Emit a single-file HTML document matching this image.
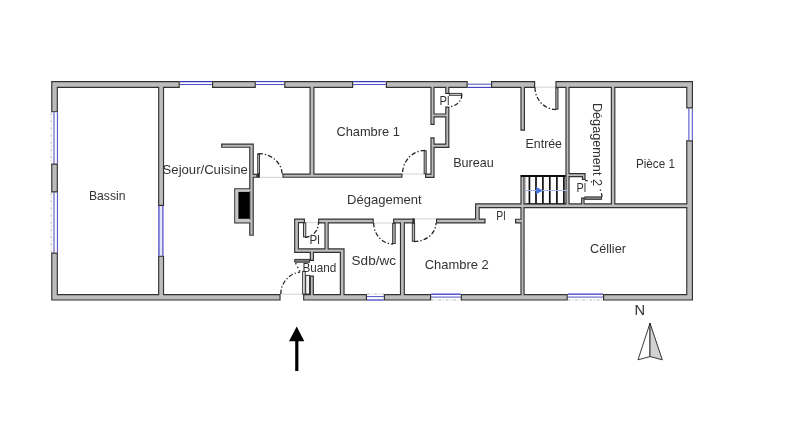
<!DOCTYPE html>
<html><head><meta charset="utf-8"><title>Plan</title>
<style>
html,body{margin:0;padding:0;background:#fff;}
body{width:800px;height:448px;overflow:hidden;font-family:"Liberation Sans",sans-serif;}
svg{display:block;}
text{font-family:"Liberation Sans",sans-serif;font-size:13.4px;fill:#333;}
</style></head><body>
<svg width="800" height="448" viewBox="0 0 800 448">
<defs>
<filter id="bl" x="0" y="0" width="800" height="448" filterUnits="userSpaceOnUse"><feGaussianBlur stdDeviation="0.35"/></filter>

</defs>
<rect width="800" height="448" fill="#fff"/>
<g filter="url(#bl)">
<line x1="259" y1="177.4" x2="282.4" y2="177.4" stroke="#c8c8c8" stroke-width="0.8"/>
<line x1="402.5" y1="174" x2="424" y2="174" stroke="#c8c8c8" stroke-width="0.8"/>
<line x1="535" y1="87.2" x2="555.6" y2="87.2" stroke="#c8c8c8" stroke-width="0.8"/>
<line x1="373.75" y1="223" x2="393" y2="223" stroke="#c8c8c8" stroke-width="0.8"/>
<line x1="414.75" y1="218.9" x2="436" y2="218.9" stroke="#c8c8c8" stroke-width="0.8"/>
<line x1="281" y1="294.2" x2="303" y2="294.2" stroke="#c8c8c8" stroke-width="0.8"/>
<line x1="306" y1="222.6" x2="318" y2="222.6" stroke="#c8c8c8" stroke-width="0.8"/>
<line x1="179.8" y1="81.6" x2="212" y2="81.6" stroke="#3a3ac0" stroke-width="1.1"/>
<line x1="179.8" y1="84.5" x2="212" y2="84.5" stroke="#3a3ac0" stroke-width="0.9"/>
<line x1="255.8" y1="81.6" x2="284.2" y2="81.6" stroke="#3a3ac0" stroke-width="1.1"/>
<line x1="255.8" y1="84.5" x2="284.2" y2="84.5" stroke="#3a3ac0" stroke-width="0.9"/>
<line x1="353.2" y1="81.6" x2="385.8" y2="81.6" stroke="#3a3ac0" stroke-width="1.1"/>
<line x1="353.2" y1="84.5" x2="385.8" y2="84.5" stroke="#3a3ac0" stroke-width="0.9"/>
<line x1="467.7" y1="84.2" x2="491" y2="84.2" stroke="#3a3ac0" stroke-width="0.9"/>
<line x1="467.7" y1="87.4" x2="491" y2="87.4" stroke="#3a3ac0" stroke-width="1.1"/>
<line x1="367" y1="296.6" x2="383.8" y2="296.6" stroke="#3a3ac0" stroke-width="0.9"/>
<line x1="367" y1="300" x2="383.8" y2="300" stroke="#3a3ac0" stroke-width="1.2"/>
<line x1="367" y1="294" x2="383.8" y2="294" stroke="#b4b4b4" stroke-width="0.9" stroke-dasharray="3 1.6 1 1.6"/>
<line x1="431.2" y1="294.2" x2="460.75" y2="294.2" stroke="#3a3ac0" stroke-width="1.3"/>
<line x1="431.2" y1="297.1" x2="460.75" y2="297.1" stroke="#3a3ac0" stroke-width="0.9"/>
<line x1="431.2" y1="300" x2="460.75" y2="300" stroke="#b4b4b4" stroke-width="0.9" stroke-dasharray="3 1.6 1 1.6"/>
<line x1="567.75" y1="294.1" x2="603" y2="294.1" stroke="#3a3ac0" stroke-width="1.3"/>
<line x1="567.75" y1="297.1" x2="603" y2="297.1" stroke="#3a3ac0" stroke-width="0.9"/>
<line x1="567.75" y1="300" x2="603" y2="300" stroke="#b4b4b4" stroke-width="0.9" stroke-dasharray="3 1.6 1 1.6"/>
<line x1="54.0" y1="112.5" x2="54.0" y2="163.6" stroke="#3a3ac0" stroke-width="0.95"/>
<line x1="57.4" y1="112.5" x2="57.4" y2="163.6" stroke="#3a3ac0" stroke-width="0.95"/>
<line x1="51.2" y1="112.5" x2="51.2" y2="163.6" stroke="#b4b4b4" stroke-width="0.9" stroke-dasharray="3 1.6 1 1.6"/>
<line x1="54.0" y1="192.5" x2="54.0" y2="252.5" stroke="#3a3ac0" stroke-width="0.95"/>
<line x1="57.4" y1="192.5" x2="57.4" y2="252.5" stroke="#3a3ac0" stroke-width="0.95"/>
<line x1="51.2" y1="192.5" x2="51.2" y2="252.5" stroke="#b4b4b4" stroke-width="0.9" stroke-dasharray="3 1.6 1 1.6"/>
<rect x="158.9" y="206" width="4" height="50" fill="#e6e6f6"/>
<line x1="158.9" y1="206" x2="158.9" y2="255.8" stroke="#3a3ac0" stroke-width="1.2"/>
<line x1="162.9" y1="206" x2="162.9" y2="255.8" stroke="#3a3ac0" stroke-width="1.1"/>
<line x1="688.9" y1="108.5" x2="688.9" y2="140.3" stroke="#3a3ac0" stroke-width="0.95"/>
<line x1="692.3" y1="108.5" x2="692.3" y2="140.3" stroke="#3a3ac0" stroke-width="0.95"/>
<path fill="#303030" d="M51.20 81.00H179.80V88.00H51.20ZM212.00 81.00H255.80V88.00H212.00ZM284.20 81.00H353.20V88.00H284.20ZM385.80 81.00H467.70V88.00H385.80ZM491.00 81.00H535.20V88.00H491.00ZM555.40 81.00H693.00V88.00H555.40ZM51.20 81.00H57.90V112.30H51.20ZM51.20 163.50H57.90V192.50H51.20ZM51.20 252.50H57.90V300.60H51.20ZM51.20 294.00H280.60V300.60H51.20ZM303.10 294.00H367.00V300.60H303.10ZM383.80 294.00H431.20V300.60H383.80ZM460.75 294.00H567.75V300.60H460.75ZM603.00 294.00H693.00V300.60H603.00ZM686.20 81.00H693.00V108.50H686.20ZM686.20 140.30H693.00V300.60H686.20ZM158.10 87.50H164.10V206.00H158.10ZM158.10 255.70H164.10V294.50H158.10ZM309.50 87.50H314.50V174.00H309.50ZM282.40 173.50H402.50V177.80H282.40ZM221.10 143.60H253.80V147.80H221.10ZM249.20 143.60H253.80V235.80H249.20ZM253.00 173.80H257.50V177.80H253.00ZM234.20 188.30H250.00V192.20H234.20ZM234.20 188.30H238.60V223.40H234.20ZM234.20 218.60H250.00V223.40H234.20ZM430.40 87.50H434.60V125.00H430.40ZM430.40 137.25H434.60V177.90H430.40ZM445.20 87.50H449.40V94.00H445.20ZM445.20 106.50H449.40V147.90H445.20ZM434.00 113.40H446.00V117.50H434.00ZM430.40 143.50H449.40V147.90H430.40ZM425.00 173.50H434.60V177.90H425.00ZM520.40 87.50H525.00V130.70H520.40ZM565.40 87.50H569.60V204.00H565.40ZM610.80 87.50H615.40V204.00H610.80ZM475.00 203.30H687.00V208.20H475.00ZM475.00 203.30H479.75V223.50H475.00ZM436.00 218.50H485.60V223.50H436.00ZM515.00 218.70H521.00V223.50H515.00ZM520.40 175.00H524.60V294.50H520.40ZM294.10 218.50H305.00V223.20H294.10ZM318.10 218.50H373.75V223.40H318.10ZM393.10 218.50H414.75V223.40H393.10ZM294.10 218.50H299.00V253.00H294.10ZM294.10 248.30H344.60V253.00H294.10ZM324.40 223.00H328.75V249.00H324.40ZM339.80 248.30H344.60V294.50H339.80ZM309.75 252.50H314.00V261.00H309.75ZM309.75 275.50H313.90V294.50H309.75ZM399.90 223.00H404.90V294.50H399.90ZM569.00 173.10H585.60V177.25H569.00ZM581.90 176.50H585.60V180.00H581.90ZM581.10 197.50H584.60V204.00H581.10Z"/>
<path fill="#bcbcbc" d="M52.35 82.15H178.65V86.85H52.35ZM213.15 82.15H254.65V86.85H213.15ZM285.35 82.15H352.05V86.85H285.35ZM386.95 82.15H466.55V86.85H386.95ZM492.15 82.15H534.05V86.85H492.15ZM556.55 82.15H691.85V86.85H556.55ZM52.35 82.15H56.75V111.15H52.35ZM52.35 164.65H56.75V191.35H52.35ZM52.35 253.65H56.75V299.45H52.35ZM52.35 295.15H279.45V299.45H52.35ZM304.25 295.15H365.85V299.45H304.25ZM384.95 295.15H430.05V299.45H384.95ZM461.90 295.15H566.60V299.45H461.90ZM604.15 295.15H691.85V299.45H604.15ZM687.35 82.15H691.85V107.35H687.35ZM687.35 141.45H691.85V299.45H687.35ZM159.25 86.35H162.95V204.85H159.25ZM159.25 256.85H162.95V295.65H159.25ZM310.65 86.35H313.35V175.15H310.65ZM283.55 174.65H401.35V176.65H283.55ZM222.25 144.75H252.65V146.65H222.25ZM250.35 144.75H252.65V234.65H250.35ZM251.85 174.95H256.35V176.65H251.85ZM235.35 189.45H251.15V191.05H235.35ZM235.35 189.45H237.45V222.25H235.35ZM235.35 219.75H251.15V222.25H235.35ZM431.55 86.35H433.45V123.85H431.55ZM431.55 138.40H433.45V176.75H431.55ZM446.35 86.35H448.25V92.85H446.35ZM446.35 107.65H448.25V146.75H446.35ZM432.85 114.55H447.15V116.35H432.85ZM431.55 144.65H448.25V146.75H431.55ZM426.15 174.65H433.45V176.75H426.15ZM521.55 86.35H523.85V129.55H521.55ZM566.55 86.35H568.45V205.15H566.55ZM611.95 86.35H614.25V205.15H611.95ZM476.15 204.45H688.15V207.05H476.15ZM476.15 204.45H478.60V222.35H476.15ZM437.15 219.65H484.45V222.35H437.15ZM516.15 219.85H522.15V222.35H516.15ZM521.55 176.15H523.45V295.65H521.55ZM295.25 219.65H303.85V222.05H295.25ZM319.25 219.65H372.60V222.25H319.25ZM394.25 219.65H413.60V222.25H394.25ZM295.25 219.65H297.85V251.85H295.25ZM295.25 249.45H343.45V251.85H295.25ZM325.55 221.85H327.60V250.15H325.55ZM340.95 249.45H343.45V295.65H340.95ZM310.90 251.35H312.85V259.85H310.90ZM310.90 276.65H312.75V295.65H310.90ZM401.05 221.85H403.75V295.65H401.05ZM567.85 174.25H584.45V176.10H567.85ZM583.05 175.35H584.45V178.85H583.05ZM582.25 198.65H583.45V205.15H582.25Z"/>
<rect x="235.35" y="189.45" width="14.3" height="32.8" fill="#c6c6c6"/>
<rect x="238.4" y="191.9" width="11.4" height="26.9" fill="#050505"/>
<rect x="257.2" y="174" width="2.6" height="3.8" fill="#222"/>
<rect x="412.3" y="218.6" width="2.5" height="4.6" fill="#333"/>
<rect x="520.8" y="175" width="44.8" height="2" fill="#111"/>
<rect x="524.6" y="203.3" width="41" height="0.9" fill="#222"/>
<rect x="528.55" y="176" width="1.7" height="27.6" fill="#111"/>
<rect x="535.15" y="176" width="1.7" height="27.6" fill="#111"/>
<rect x="542.05" y="176" width="1.7" height="27.6" fill="#111"/>
<rect x="548.9499999999999" y="176" width="1.7" height="27.6" fill="#111"/>
<rect x="556.05" y="176" width="1.7" height="27.6" fill="#111"/>
<rect x="563.05" y="176" width="1.7" height="27.6" fill="#111"/>
<rect x="525.3" y="177" width="0.8" height="26.5" fill="#a8a8a8"/>
<line x1="524.6" y1="190.5" x2="567.5" y2="190.5" stroke="#a4b8ec" stroke-width="1.1"/>
<path d="M536.2 186.9L543 190.5L536.2 194.2Z" fill="#4676e0"/>
<rect x="257.7" y="153.9" width="1.8" height="20.1" fill="#c4c4c4" stroke="#303030" stroke-width="0.95"/>
<rect x="424.15" y="150.8" width="2.05" height="23.0" fill="#b8b8b8" stroke="#303030" stroke-width="0.95"/>
<rect x="449.4" y="93.4" width="12.1" height="1.9" fill="#e4e4e4" stroke="#303030" stroke-width="0.95"/>
<rect x="555.8" y="87.9" width="2.2" height="21.3" fill="#b0b0b0" stroke="#303030" stroke-width="0.95"/>
<rect x="303.5" y="222.9" width="2.3" height="13.95" fill="#c8c8c8" stroke="#303030" stroke-width="0.95"/>
<rect x="392.65" y="223.4" width="2.55" height="20.2" fill="#b0b0b0" stroke="#303030" stroke-width="0.95"/>
<rect x="412.29999999999995" y="223.4" width="2.3" height="17.8" fill="#b8b8b8" stroke="#303030" stroke-width="0.95"/>
<rect x="294.79999999999995" y="259.4" width="14.8" height="2.8" fill="#808080" stroke="#303030" stroke-width="0.95"/>
<rect x="302.65" y="271.4" width="2.55" height="22.6" fill="#ececec" stroke="#303030" stroke-width="0.95"/>
<rect x="305.7" y="275.4" width="3.8" height="18.6" fill="#f4f4f4" stroke="#303030" stroke-width="0.95"/>
<rect x="584.8" y="196.9" width="16.7" height="2.45" fill="#8a8a8a" stroke="#303030" stroke-width="0.95"/>
<path d="M258.50 153.50A23.7 21.5 0 0 1 282.20 175.00" fill="none" stroke="#222" stroke-width="1.25" stroke-dasharray="4.5 2 1.3 2"/>
<path d="M425.00 150.40A22.5 23.6 0 0 0 402.50 174.00" fill="none" stroke="#222" stroke-width="1.25" stroke-dasharray="4.5 2 1.3 2"/>
<path d="M461.90 94.30A12.5 12.2 0 0 1 449.40 106.50" fill="none" stroke="#222" stroke-width="1.25" stroke-dasharray="4.5 2 1.3 2"/>
<path d="M535.00 87.50A21 22 0 0 0 556.00 109.50" fill="none" stroke="#222" stroke-width="1.25" stroke-dasharray="4.5 2 1.3 2"/>
<path d="M305.00 237.25A13.5 14.75 0 0 0 318.50 222.50" fill="none" stroke="#222" stroke-width="1.25" stroke-dasharray="4.5 2 1.3 2"/>
<path d="M373.70 223.00A19.3 21 0 0 0 393.00 244.00" fill="none" stroke="#222" stroke-width="1.25" stroke-dasharray="4.5 2 1.3 2"/>
<path d="M414.00 241.60A22 18.6 0 0 0 436.00 223.00" fill="none" stroke="#222" stroke-width="1.25" stroke-dasharray="4.5 2 1.3 2"/>
<path d="M280.80 294.00A22.2 22.2 0 0 1 299.91 272.02" fill="none" stroke="#222" stroke-width="1.25" stroke-dasharray="4.5 2 1.3 2"/>
<path d="M585.00 180.50A17 17 0 0 1 602.00 197.50" fill="none" stroke="#222" stroke-width="1.25" stroke-dasharray="3 3 1.3 11 1.3 2.5 4 9"/>
<path d="M300 271.5L295.5 263" fill="none" stroke="#2a2a2a" stroke-width="1.4" stroke-dasharray="1.4 2.6"/>
<path d="M296.7 326.6L304.3 341.2L289 341.2Z" fill="#000"/><rect x="295.2" y="340" width="3.2" height="31" fill="#000"/>
<path d="M650 323.2L638 359.8L650 356.6Z" fill="#fff" stroke="#222" stroke-width="0.9" stroke-linejoin="miter"/>
<path d="M650 323.2L662.3 359.8L650 356.6Z" fill="#d2d2d2" stroke="#222" stroke-width="0.9" stroke-linejoin="miter"/>
<g opacity="0.999">
<text x="89.0" y="199.5" textLength="36.4" lengthAdjust="spacingAndGlyphs">Bassin</text>
<text x="162.6" y="173.5" textLength="85.3" lengthAdjust="spacingAndGlyphs">Sejour/Cuisine</text>
<text x="336.4" y="136" textLength="63.4" lengthAdjust="spacingAndGlyphs">Chambre 1</text>
<text x="347.0" y="204.4" textLength="74.65" lengthAdjust="spacingAndGlyphs">Dégagement</text>
<text x="453.15" y="167.3" textLength="40.65" lengthAdjust="spacingAndGlyphs">Bureau</text>
<text x="525.6" y="147.5" textLength="36.4" lengthAdjust="spacingAndGlyphs">Entrée</text>
<text x="636.0" y="167.5" textLength="38.9" lengthAdjust="spacingAndGlyphs">Pièce 1</text>
<text x="590.0" y="252.5" textLength="35.9" lengthAdjust="spacingAndGlyphs">Céllier</text>
<text x="424.75" y="269.4" textLength="64.05" lengthAdjust="spacingAndGlyphs">Chambre 2</text>
<text x="351.6" y="265.25" textLength="44.4" lengthAdjust="spacingAndGlyphs">Sdb/wc</text>
<text x="302.5" y="271.6" textLength="33.9" lengthAdjust="spacingAndGlyphs">Buand</text>
<text x="309.5" y="243.75" textLength="10.3" lengthAdjust="spacingAndGlyphs">Pl</text>
<text x="439.5" y="104.8" textLength="10.0" lengthAdjust="spacingAndGlyphs">Pl</text>
<text x="496.2" y="220.1" textLength="9.3" lengthAdjust="spacingAndGlyphs">Pl</text>
<text x="576.5" y="192" textLength="9.7" lengthAdjust="spacingAndGlyphs">Pl</text>
<text transform="translate(592.9,102.9) rotate(90)" textLength="83.1" lengthAdjust="spacingAndGlyphs">Dégagement 2</text>
<text x="634.6" y="315.4" textLength="10.6" lengthAdjust="spacingAndGlyphs" style="font-size:13.9px">N</text>
</g>
</g>
</svg></body></html>
